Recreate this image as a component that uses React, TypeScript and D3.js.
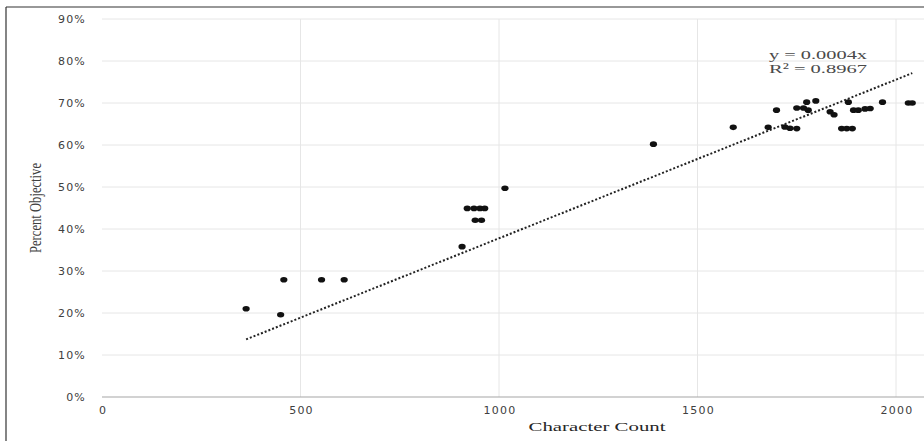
import React, { useEffect, useRef } from 'react';
import * as d3 from 'd3';

// character count of each document
const charCounts = [
  363, 450, 458, 553, 610,
  907, 920, 937, 952, 964, 940, 956, 1015,
  1389, 1590, 1678, 1699, 1720, 1733, 1750, 1750, 1767, 1775, 1779, 1798,
  1834, 1844, 1863, 1876, 1890, 1880, 1893, 1905, 1922, 1935, 1966, 2031, 2041,
];
// share of objective statements, same order
const percentObjective = [
  0.21, 0.196, 0.279, 0.279, 0.279,
  0.358, 0.449, 0.449, 0.449, 0.449, 0.421, 0.421, 0.497,
  0.602, 0.642, 0.642, 0.683, 0.643, 0.640, 0.639, 0.688, 0.688, 0.702, 0.683, 0.705,
  0.679, 0.672, 0.639, 0.639, 0.639, 0.702, 0.683, 0.683, 0.686, 0.687, 0.702, 0.70, 0.70,
];

const xTicks = [0, 500, 1000, 1500, 2000];
const yTicks = [0, 0.1, 0.2, 0.3, 0.4, 0.5, 0.6, 0.7, 0.8, 0.9];
const equationText = 'y = 0.0004x';
const r2Text = 'R² = 0.8967';

const width = 924;
const height = 441;

const App = () => {
  const svgRef = useRef(null);

  useEffect(() => {
    const svg = d3.select(svgRef.current);
    svg.selectAll('*').remove();

    const x = d3.scaleLinear().domain([0, 2000]).range([102, 896]);
    const y = d3.scaleLinear().domain([0, 0.9]).range([397, 19]);
    const plotRight = 924;

    // outer frame (only top and left visible, picture is cropped)
    svg.append('line').attr('x1', 6).attr('x2', width).attr('y1', 7).attr('y2', 7)
      .attr('stroke', '#333').attr('stroke-width', 1.2);
    svg.append('line').attr('x1', 6).attr('x2', 6).attr('y1', 7).attr('y2', height)
      .attr('stroke', '#333').attr('stroke-width', 1.2);

    // gridlines
    svg.append('g').selectAll('line').data(yTicks.filter(d => d > 0)).enter().append('line')
      .attr('x1', x(0)).attr('x2', plotRight)
      .attr('y1', d => y(d)).attr('y2', d => y(d))
      .attr('stroke', '#e6e6e6').attr('stroke-width', 1);
    svg.append('g').selectAll('line').data(xTicks.filter(d => d > 0)).enter().append('line')
      .attr('x1', d => x(d)).attr('x2', d => x(d))
      .attr('y1', y(0.9)).attr('y2', y(0))
      .attr('stroke', '#e6e6e6').attr('stroke-width', 1);

    // x axis line
    svg.append('line').attr('x1', x(0)).attr('x2', plotRight).attr('y1', y(0)).attr('y2', y(0))
      .attr('stroke', '#a6a6a6').attr('stroke-width', 1.2);

    // tick labels
    svg.append('g').selectAll('text').data(yTicks).enter().append('text')
      .attr('x', 86).attr('y', d => y(d)).attr('dy', '0.35em')
      .attr('text-anchor', 'end')
      .attr('font-family', 'DejaVu Sans').attr('font-size', 11)
      .attr('letter-spacing', 1.2).attr('fill', '#404040')
      .text(d => d3.format('.0%')(d));
    svg.append('g').selectAll('text').data(xTicks).enter().append('text')
      .attr('x', d => x(d) + 1).attr('y', 410).attr('dy', '0.35em')
      .attr('text-anchor', 'middle')
      .attr('font-family', 'DejaVu Sans').attr('font-size', 11)
      .attr('letter-spacing', 1.2).attr('fill', '#404040')
      .text(d => d);

    // axis titles
    svg.append('text')
      .attr('transform', 'translate(41,208) rotate(-90)')
      .attr('text-anchor', 'middle')
      .attr('font-family', 'Liberation Serif').attr('font-size', 16)
      .attr('textLength', 90).attr('lengthAdjust', 'spacingAndGlyphs')
      .attr('fill', '#404040')
      .text('Percent  Objective');
    svg.append('text')
      .attr('x', 597).attr('y', 431)
      .attr('text-anchor', 'middle')
      .attr('font-family', 'Liberation Serif').attr('font-size', 13.5)
      .attr('textLength', 137).attr('lengthAdjust', 'spacingAndGlyphs')
      .attr('fill', '#262626')
      .text('Character  Count');

    // trendline through origin: slope = sum(xy) / sum(x^2)
    const data = charCounts.map((c, i) => [c, percentObjective[i]]);
    const slope = d3.sum(data, d => d[0] * d[1]) / d3.sum(data, d => d[0] * d[0]);
    const [xMin, xMax] = d3.extent(charCounts);
    svg.append('line')
      .attr('x1', x(xMin)).attr('y1', y(slope * xMin))
      .attr('x2', x(xMax)).attr('y2', y(slope * xMax))
      .attr('stroke', '#222').attr('stroke-width', 2)
      .attr('stroke-dasharray', '2,2');

    // points
    svg.append('g').selectAll('ellipse').data(data).enter().append('ellipse')
      .attr('cx', d => x(d[0])).attr('cy', d => y(d[1]))
      .attr('rx', 3.6).attr('ry', 2.8)
      .attr('fill', '#111');

    // equation label
    svg.append('text').attr('x', 769).attr('y', 59)
      .attr('font-family', 'Liberation Serif').attr('font-size', 13.5)
      .attr('textLength', 98).attr('lengthAdjust', 'spacingAndGlyphs')
      .attr('fill', '#4a4a4a').text(equationText);
    svg.append('text').attr('x', 769).attr('y', 73)
      .attr('font-family', 'Liberation Serif').attr('font-size', 13.5)
      .attr('textLength', 98).attr('lengthAdjust', 'spacingAndGlyphs')
      .attr('fill', '#4a4a4a').text(r2Text);
  }, []);

  return (
    <svg
      ref={svgRef}
      width={width}
      height={height}
      style={{ position: 'absolute', left: 0, top: 0, background: '#fff' }}
    ></svg>
  );
};

export default App;
